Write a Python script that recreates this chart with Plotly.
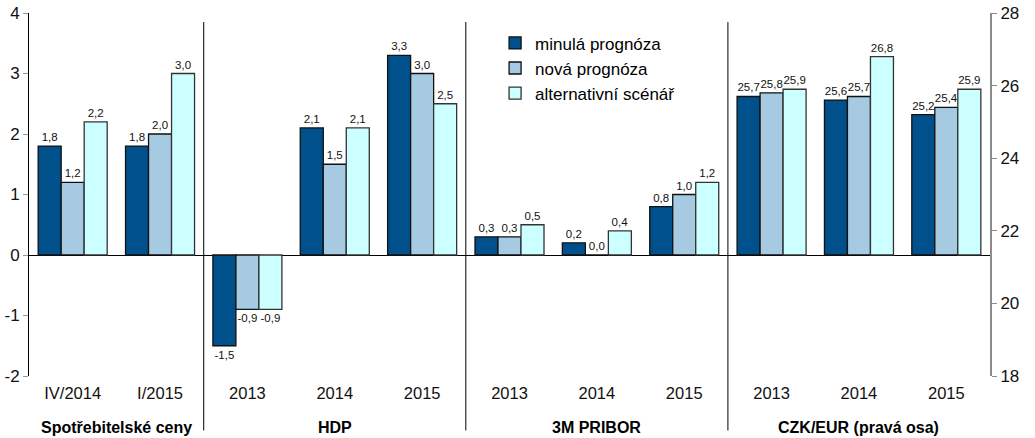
import plotly.graph_objects as go

# ---- data ----
groups = ["Spotřebitelské ceny", "HDP", "3M PRIBOR", "CZK/EUR (pravá osa)"]
group_cats = [
    ["IV/2014", "I/2015"],
    ["2013", "2014", "2015"],
    ["2013", "2014", "2015"],
    ["2013", "2014", "2015"],
]
series_names = ["minulá prognóza", "nová prognóza", "alternativní scénář"]
series_colors = ["#00508c", "#a6cae2", "#ccffff"]

# left-axis groups (CPI, HDP, PRIBOR)
minula_left = [1.8, 1.8, -1.5, 2.1, 3.3, 0.3, 0.2, 0.8]
nova_left = [1.2, 2.0, -0.9, 1.5, 3.0, 0.3, 0.0, 1.0]
alt_left = [2.2, 3.0, -0.9, 2.1, 2.5, 0.5, 0.4, 1.2]
# right-axis group (CZK/EUR)
minula_right = [25.7, 25.6, 25.2]
nova_right = [25.8, 25.7, 25.4]
alt_right = [25.9, 26.8, 25.9]

left_range = [-2, 4]
right_range = [18, 28]

# ---- category keys ----
keys, labels, gidx = [], [], []
for g, cats in enumerate(group_cats):
    for c in cats:
        keys.append(f"{g}|{c}")
        labels.append(c)
        gidx.append(g)
left_keys = [k for k, g in zip(keys, gidx) if g < 3]
right_keys = [k for k, g in zip(keys, gidx) if g == 3]

# base on right axis that coincides with 0 on left axis
right_base = right_range[0] + (0 - left_range[0]) * (right_range[1] - right_range[0]) / (left_range[1] - left_range[0])


def fmt(v):
    return f"{v:.1f}".replace(".", ",")


FONT = "Liberation Sans, Arial, sans-serif"
fig = go.Figure()
left_series = [minula_left, nova_left, alt_left]
right_series = [minula_right, nova_right, alt_right]
line_cols = ["#111111", "#111111", "#333333"]
for i, name in enumerate(series_names):
    fig.add_trace(go.Bar(
        x=left_keys, y=left_series[i], name=name, offsetgroup=str(i),
        marker=dict(color=series_colors[i], line=dict(color=line_cols[i], width=1.3)),
        text=[fmt(v) for v in left_series[i]], textposition="outside",
        constraintext="none", cliponaxis=False,
        textfont=dict(size=11.5, color="#111111", family=FONT),
    ))
for i, name in enumerate(series_names):
    fig.add_trace(go.Bar(
        x=right_keys, y=[v - right_base for v in right_series[i]], base=right_base,
        name=name, offsetgroup=str(i), yaxis="y2", showlegend=False,
        marker=dict(color=series_colors[i], line=dict(color=line_cols[i], width=1.3)),
        text=[fmt(v) for v in right_series[i]], textposition="outside",
        constraintext="none", cliponaxis=False,
        textfont=dict(size=11.5, color="#111111", family=FONT),
    ))

# group separators and group labels
pos = 0
for g, cats in enumerate(group_cats):
    n = len(cats)
    center = pos + (n - 1) / 2
    fig.add_annotation(x=center, y=-0.143, xref="x", yref="paper",
                       xanchor="center", yanchor="middle",
                       text=f"<b>{groups[g]}</b>", showarrow=False,
                       font=dict(size=16, color="black", family=FONT))
    if g < len(group_cats) - 1:
        fig.add_shape(type="line", xref="x", yref="paper",
                      x0=pos + n - 0.5, x1=pos + n - 0.5, y0=-0.15, y1=0.975,
                      line=dict(color="black", width=1))
    pos += n

fig.update_layout(
    width=1035, height=438,
    margin=dict(l=29, r=45, t=13, b=62, autoexpand=False),
    paper_bgcolor="white", plot_bgcolor="white",
    barmode="group", bargap=0.21, bargroupgap=0,
    font=dict(family=FONT, color="black"),
    showlegend=True,
    legend=dict(x=0.485, y=0.966, xanchor="left", yanchor="top",
                font=dict(size=17, color="black", family=FONT),
                bgcolor="rgba(0,0,0,0)", itemwidth=30, tracegroupgap=0),
    xaxis=dict(type="category", categoryorder="array", categoryarray=keys,
               tickvals=keys, ticktext=labels, ticks="", showline=False,
               showgrid=False, automargin=False, ticklabelstandoff=5,
               tickfont=dict(size=16.5, family=FONT, color="#111111")),
    yaxis=dict(range=left_range, tickvals=list(range(-2, 5)),
               ticktext=[str(v) for v in range(-2, 5)], automargin=False,
               showgrid=False, showline=True, linecolor="black", linewidth=1,
               ticks="outside", ticklen=5, tickcolor="#999999",
               zeroline=True, zerolinecolor="black", zerolinewidth=1,
               tickfont=dict(size=17, family=FONT, color="#111111")),
    yaxis2=dict(range=right_range, overlaying="y", side="right", dtick=2,
                tick0=18, showgrid=False, zeroline=False, automargin=False,
                showline=True, linecolor="#8c8c8c", linewidth=2,
                ticks="outside", ticklen=5, tickcolor="#8c8c8c",
                tickfont=dict(size=17, family=FONT, color="#111111")),
)

fig.write_html("out.html", config={"displayModeBar": False},
               post_script="document.body.style.margin='0px';document.body.style.overflow='hidden';")
